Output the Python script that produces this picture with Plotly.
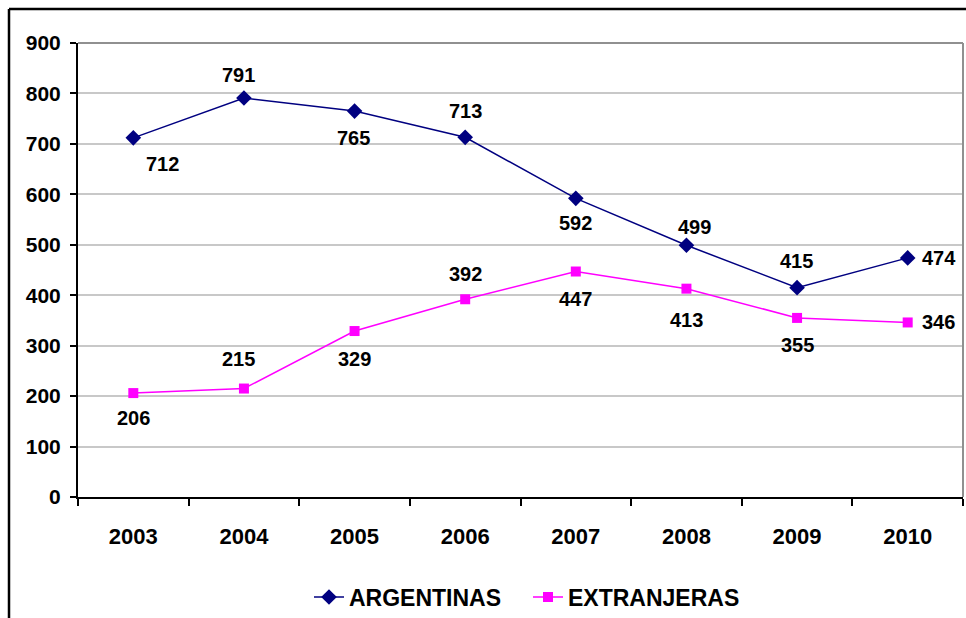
import plotly.graph_objects as go

years = ["2003", "2004", "2005", "2006", "2007", "2008", "2009", "2010"]
argentinas = [712, 791, 765, 713, 592, 499, 415, 474]
extranjeras = [206, 215, 329, 392, 447, 413, 355, 346]
y_ticks = [0, 100, 200, 300, 400, 500, 600, 700, 800, 900]

# label offsets (pixels) relative to each point
arg_off = [(29, -26), (-5, 23), (-1, -27), (0, 26), (0, -25), (8, 18), (-1, 27), (31, 0)]
ext_off = [(0, -25), (-5, 30), (0, -28), (0, 25), (0, -27), (0, -31), (0, -27), (31, 0)]

FONT = "Liberation Sans, Arial, sans-serif"

fig = go.Figure()
fig.add_trace(go.Scatter(
    x=years, y=argentinas, name="ARGENTINAS", mode="lines+markers",
    line=dict(color="#000080", width=1.5),
    marker=dict(symbol="diamond", size=12, color="#000080"),
))
fig.add_trace(go.Scatter(
    x=years, y=extranjeras, name="EXTRANJERAS", mode="lines+markers",
    line=dict(color="#FF00FF", width=1.5),
    marker=dict(symbol="square", size=10, color="#FF00FF"),
))

annotations = []
for series, offs in ((argentinas, arg_off), (extranjeras, ext_off)):
    for i, (v, (dx, dy)) in enumerate(zip(series, offs)):
        annotations.append(dict(
            x=i, y=v, xref="x", yref="y", text="<b>%d</b>" % v, showarrow=False,
            xshift=dx, yshift=dy,
            font=dict(family=FONT, size=20, color="black"),
        ))

shapes = [
    # outer chart border (left and top)
    dict(type="line", xref="paper", yref="paper", x0=(9 - 78) / 885, x1=(9 - 78) / 885,
         y0=1 + (43 - 9) / 454, y1=(497 - 620) / 454, line=dict(color="black", width=2.5)),
    dict(type="line", xref="paper", yref="paper", x0=(9 - 78) / 885, x1=1 + 5 / 885,
         y0=1 + (43 - 9) / 454, y1=1 + (43 - 9) / 454, line=dict(color="black", width=2.5)),
    # plot area border top/right (gray)
    dict(type="line", xref="paper", yref="paper", x0=0, x1=1, y0=1, y1=1,
         line=dict(color="#909090", width=2)),
    dict(type="line", xref="paper", yref="paper", x0=1, x1=1, y0=0, y1=1,
         line=dict(color="#909090", width=2)),
]

fig.update_layout(
    width=966, height=618,
    margin=dict(l=78, r=3, t=43, b=121),
    paper_bgcolor="white", plot_bgcolor="white",
    showlegend=True,
    legend=dict(orientation="h", xref="container", yref="container",
                x=309 / 966, xanchor="left", y=1 - 597 / 618, yanchor="middle",
                font=dict(family=FONT, size=23, color="black", weight=700),
                entrywidth=174, entrywidthmode="pixels", tracegroupgap=0),
    annotations=annotations,
    shapes=shapes,
    xaxis=dict(
        type="category", range=[-0.5, 7.5], tickson="boundaries",
        ticks="outside", ticklen=7, tickwidth=1.5, tickcolor="black",
        showgrid=False, showline=True, linecolor="black", linewidth=2,
        tickfont=dict(family=FONT, size=22, color="black", weight=700),
        ticklabelstandoff=19,
    ),
    yaxis=dict(
        range=[0, 900], tickvals=y_ticks,
        ticks="outside", ticklen=6, tickwidth=1.5, tickcolor="black",
        showgrid=True, gridcolor="#c8c8c8", gridwidth=1.5,
        showline=True, linecolor="black", linewidth=2,
        zeroline=False,
        tickfont=dict(family=FONT, size=21, color="black", weight=700),
        ticklabelstandoff=5,
    ),
)

fig.write_html("out.html", config={"displayModeBar": False},
               post_script="document.body.style.margin='0';")
